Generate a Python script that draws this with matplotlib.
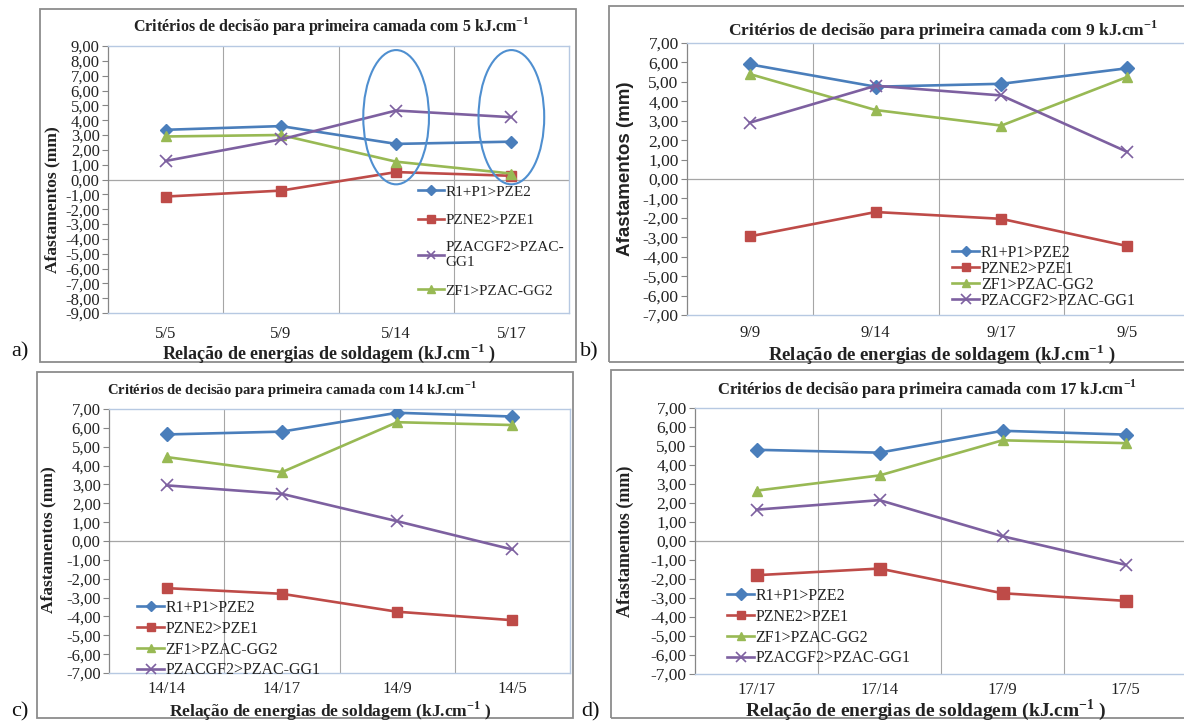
import matplotlib.pyplot as plt
from matplotlib.patches import Rectangle, Ellipse

plt.rcParams['font.family'] = ['Liberation Serif', 'DejaVu Serif']
plt.rcParams['mathtext.fontset'] = 'custom'
plt.rcParams['mathtext.rm'] = 'Liberation Serif'
plt.rcParams['mathtext.bf'] = 'Liberation Serif:bold'

# series names (order used in the legends of b, c, d)
names = ['R1+P1>PZE2', 'PZNE2>PZE1', 'ZF1>PZAC-GG2', 'PZACGF2>PZAC-GG1']
colors = ['#4A7EBB', '#BE4B48', '#98B954', '#7D60A0']
markers = ['D', 's', '^', 'x']

# a) 5 kJ/cm
cats_a = ['5/5', '5/9', '5/14', '5/17']
r1_a = [3.35, 3.60, 2.40, 2.55]
pzne_a = [-1.15, -0.75, 0.50, 0.25]
zf1_a = [2.90, 3.00, 1.20, 0.40]
pzac_a = [1.25, 2.70, 4.65, 4.20]

# b) 9 kJ/cm
cats_b = ['9/9', '9/14', '9/17', '9/5']
r1_b = [5.90, 4.75, 4.90, 5.70]
pzne_b = [-2.95, -1.70, -2.05, -3.45]
zf1_b = [5.40, 3.55, 2.75, 5.25]
pzac_b = [2.90, 4.80, 4.30, 1.40]

# c) 14 kJ/cm
cats_c = ['14/14', '14/17', '14/9', '14/5']
r1_c = [5.65, 5.80, 6.80, 6.60]
pzne_c = [-2.50, -2.80, -3.75, -4.20]
zf1_c = [4.45, 3.65, 6.30, 6.15]
pzac_c = [2.95, 2.50, 1.05, -0.45]

# d) 17 kJ/cm
cats_d = ['17/17', '17/14', '17/9', '17/5']
r1_d = [4.80, 4.65, 5.80, 5.60]
pzne_d = [-1.80, -1.45, -2.75, -3.15]
zf1_d = [2.65, 3.45, 5.30, 5.15]
pzac_d = [1.65, 2.15, 0.25, -1.25]

# highlighted categories in a)
circled_a = [2, 3]

W, H = 1184, 722
fig = plt.figure(figsize=(W / 100, H / 100), dpi=100)


def box(l, t, r, b):
    return [l / W, 1 - b / H, (r - l) / W, (b - t) / H]


panels = [
    dict(ax=(108, 46, 569, 313), frame=(40, 9, 576, 362), cats=cats_a,
         data=[r1_a, pzne_a, zf1_a, pzac_a], ylim=9, energy='5',
         title_xy=(331, 26), title_fs=11.5, tick_fs=12, xl_xy=(329, 353), xl_fs=13,
         yl_xy=(52, 200), yl_fs=12.5, yl_family='Liberation Serif', xpad=9,
         leg_xy=(418, 185), leg_fs=11, leg_sp=0.95, order=[0, 1, 3, 2],
         letter='a)', letter_xy=(20, 352), ms=6.5),
    dict(ax=(687, 43, 1190, 315), frame=(609, 6, 1200, 362), cats=cats_b,
         data=[r1_b, pzne_b, zf1_b, pzac_b], ylim=7, energy='9',
         title_xy=(943, 30), title_fs=12.5, tick_fs=12.5, xl_xy=(942, 354), xl_fs=13.5,
         yl_xy=(625, 169), yl_fs=13.5, yl_family='Liberation Sans', xpad=7,
         leg_xy=(952, 245), leg_fs=11.5, leg_sp=0.0, order=[0, 1, 2, 3],
         letter='b)', letter_xy=(589, 352), ms=7),
    dict(ax=(109, 409, 570, 673), frame=(37, 372, 573, 718), cats=cats_c,
         data=[r1_c, pzne_c, zf1_c, pzac_c], ylim=7, energy='14',
         title_xy=(292, 390), title_fs=10.5, tick_fs=12, xl_xy=(330, 711), xl_fs=12.5,
         yl_xy=(48, 540), yl_fs=12.5, yl_family='Liberation Serif', xpad=6,
         leg_xy=(137, 600), leg_fs=11.5, leg_sp=0.3, order=[0, 1, 2, 3],
         letter='c)', letter_xy=(20, 712), ms=7),
    dict(ax=(695, 408, 1187, 674), frame=(611, 370, 1200, 718), cats=cats_d,
         data=[r1_d, pzne_d, zf1_d, pzac_d], ylim=7, energy='17',
         title_xy=(927, 389), title_fs=12, tick_fs=12.5, xl_xy=(926, 710), xl_fs=14,
         yl_xy=(625, 541), yl_fs=13, yl_family='Liberation Serif', xpad=6,
         leg_xy=(727, 588), leg_fs=11.5, leg_sp=0.3, order=[0, 1, 2, 3],
         letter='d)', letter_xy=(590, 712), ms=7.5),
]

grid_c = '#A6A6A6'
border_c = '#B7C9E2'

for p in panels:
    l, t, r, b = p['frame']
    fig.add_artist(Rectangle((l / W, 1 - b / H), (r - l) / W, (b - t) / H,
                             transform=fig.transFigure, fill=False,
                             ec='#8C8C8C', lw=1.3))

    ax = fig.add_axes(box(*p['ax']))
    x = list(range(len(p['cats'])))
    lines = []
    for vals, c, m in zip(p['data'], colors, markers):
        if m == 'x':
            ln, = ax.plot(x, vals, color=c, lw=1.9, marker=m, ms=p['ms'] + 1.5,
                          mew=1.2, mec=c, zorder=3)
        else:
            ms = p['ms'] + (0.5 if m == 's' else 0)
            ln, = ax.plot(x, vals, color=c, lw=1.9, marker=m, ms=ms,
                          mec=c, mfc=c, zorder=3)
        lines.append(ln)

    ym = p['ylim']
    ax.set_xlim(-0.5, len(x) - 0.5)
    ax.set_ylim(-ym, ym)
    for gx in [0.5, 1.5, 2.5]:
        ax.axvline(gx, color=grid_c, lw=0.8, zorder=1)
    ax.axhline(0, color=grid_c, lw=0.9, zorder=1)

    yt = list(range(-ym, ym + 1))
    ax.set_yticks(yt)
    ax.set_yticklabels([f'{v:.2f}'.replace('.', ',') for v in yt],
                       fontsize=p['tick_fs'], color='#222222')
    ax.set_xticks(x)
    ax.set_xticklabels(p['cats'], fontsize=12, color='#222222')
    ax.tick_params(axis='x', length=0, pad=p['xpad'])
    ax.tick_params(axis='y', direction='out', length=4, width=0.8,
                   color='#868686', pad=2)
    for s in ['top', 'right', 'bottom']:
        ax.spines[s].set_color(border_c)
        ax.spines[s].set_linewidth(1.0)
    ax.spines['left'].set_color('#868686')
    ax.spines['left'].set_linewidth(0.9)

    labels = list(names)
    if p['letter'] == 'a)':
        labels[3] = 'PZACGF2>PZAC-\nGG1'
    lx, ly = p['leg_xy']
    ax.legend([lines[i] for i in p['order']], [labels[i] for i in p['order']],
              loc='upper left', bbox_to_anchor=(lx / W, 1 - ly / H),
              bbox_transform=fig.transFigure, frameon=False,
              fontsize=p['leg_fs'], labelspacing=p['leg_sp'], borderpad=0,
              borderaxespad=0, handlelength=1.7, handletextpad=0.1,
              markerscale=0.8, labelcolor='#222222')

    tx, ty = p['title_xy']
    fig.text(tx / W, 1 - ty / H,
             'Critérios de decisão para primeira camada com %s kJ.cm$^{\\mathbf{-1}}$' % p['energy'],
             ha='center', va='center', fontsize=p['title_fs'], fontweight='bold',
             color='#222222')
    xx, xy = p['xl_xy']
    fig.text(xx / W, 1 - xy / H,
             'Relação de energias de soldagem (kJ.cm$^{\\mathbf{-1}}$ )',
             ha='center', va='center', fontsize=p['xl_fs'], fontweight='bold',
             color='#222222')
    yx, yy = p['yl_xy']
    fig.text(yx / W, 1 - yy / H, 'Afastamentos (mm)', rotation=90,
             ha='center', va='center', fontsize=p['yl_fs'], fontweight='bold',
             family=p['yl_family'], color='#222222')
    px_, py_ = p['letter_xy']
    fig.text(px_ / W, 1 - py_ / H, p['letter'], ha='center', va='center',
             fontsize=16, color='#111111')

    if p['letter'] == 'a)':
        for ci in circled_a:
            ax.add_patch(Ellipse((ci, 4.2), 0.57, 9.05, fill=False,
                                 ec='#4F8FD0', lw=1.5, zorder=4, clip_on=False))

fig.savefig('out.png', dpi=100)
